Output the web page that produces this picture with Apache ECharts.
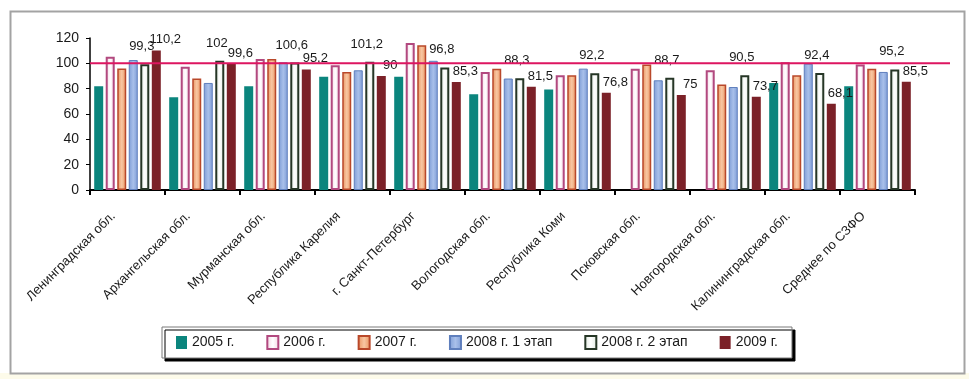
<!DOCTYPE html>
<html>
<head>
<meta charset="utf-8">
<script src="https://cdn.jsdelivr.net/npm/echarts@6/dist/echarts.min.js"></script>
<style>
  html, body { margin: 0; padding: 0; background: #ffffff; }
  #chart { width: 969px; height: 379px; }
</style>
</head>
<body>
<div id="chart"></div>
<script>
// регионы
var categories = ['Ленинградская обл.', 'Архангельская обл.', 'Мурманская обл.', 'Республика Карелия',
  'г. Санкт-Петербург', 'Вологодская обл.', 'Республика Коми', 'Псковская обл.',
  'Новгородская обл.', 'Калининградская обл.', 'Среднее по СЗФО'];
var seriesNames = ['2005 г.', '2006 г.', '2007 г.', '2008 г. 1 этап', '2008 г. 2 этап', '2009 г.'];
// значения по годам
var v2005 = [82, 73.2, 82, 89.5, 89.5, 75.6, 79.3, null, null, 84.5, 82];
var v2006 = [105.2, 97.3, 103.4, 98.4, 116, 93.2, 90.6, 95.8, 94.5, 100.8, 99];
var v2007 = [96, 88, 103.4, 93.2, 114.2, 95.8, 90.6, 99, 83.2, 90.6, 95.8];
var v2008a = [102.6, 84.5, 100.8, 94.5, 102, 88, 95.8, 86.6, 81.3, 99.7, 93.2];
var v2008b = [99.3, 102, 100.6, 101.2, 96.8, 88.3, 92.2, 88.7, 90.5, 92.4, 95.2];
var v2009 = [110.2, 99.6, 95.2, 90, 85.3, 81.5, 76.8, 75, 73.7, 68.1, 85.5];
// линия 100
var refLevel = 100;
var yTicks = [0, 20, 40, 60, 80, 100, 120];

var FONT = 'Liberation Sans';

function grad(a, b) {
  return {
    type: 'linear', x: 0, y: 0, x2: 1, y2: 0,
    colorStops: [{ offset: 0, color: a }, { offset: 0.5, color: b }, { offset: 1, color: a }]
  };
}
function comma(p) {
  return String(p.value).replace('.', ',');
}

var styles = [
  { color: '#0b857d', borderWidth: 0 },
  { color: grad('#f3d3e1', '#ffffff'), borderColor: '#b2497f', borderWidth: 2 },
  { color: grad('#e8925e', '#f8c7a2'), borderColor: '#b9482a', borderWidth: 1.5 },
  { color: grad('#7e9dd6', '#a9c0ea'), borderColor: '#5f7fbd', borderWidth: 1 },
  { color: grad('#dfe9df', '#ffffff'), borderColor: '#263626', borderWidth: 2 },
  { color: '#7b2128', borderWidth: 0 }
];
var values = [v2005, v2006, v2007, v2008a, v2008b, v2009];

var series = values.map(function (arr, i) {
  var s = {
    name: seriesNames[i],
    type: 'bar',
    data: arr,
    barWidth: 9,
    barGap: '28%',
    itemStyle: styles[i],
    xAxisIndex: 0,
    yAxisIndex: 0
  };
  if (i === 4) {
    s.label = { show: true, position: 'top', distance: 11, offset: [-3, 0], formatter: comma,
      color: '#1a1a1a', fontFamily: FONT, fontSize: 13 };
  }
  if (i === 5) {
    s.label = { show: true, position: 'top', distance: 4, offset: [9, 0], formatter: comma,
      color: '#1a1a1a', fontFamily: FONT, fontSize: 13 };
  }
  return s;
});

// красная линия 100, шире области категорий
series.push({
  type: 'line',
  xAxisIndex: 1,
  yAxisIndex: 1,
  data: [[0, refLevel], [1, refLevel]],
  symbol: 'none',
  z: 10,
  silent: true,
  lineStyle: { color: '#dd1560', width: 2 }
});

var chart = echarts.init(document.getElementById('chart'));
chart.setOption({
  animation: false,
  backgroundColor: '#ffffff',
  textStyle: { fontFamily: FONT },
  graphic: [
    { type: 'rect', left: 0, top: 373, shape: { width: 969, height: 6 }, style: { fill: '#fdfbea' }, silent: true },
    { type: 'rect', left: 8, top: 9, shape: { width: 954, height: 362 },
      style: { fill: 'none', stroke: '#a3a3a3', lineWidth: 2 }, silent: true }
  ],
  legend: {
    data: seriesNames,
    left: 162,
    top: 327,
    padding: [8, 14, 8, 14],
    icon: 'rect',
    itemWidth: 11,
    itemHeight: 13,
    itemGap: 32,
    selectedMode: false,
    backgroundColor: '#ffffff',
    borderColor: '#7a7a7a',
    borderWidth: 1,
    shadowColor: '#000000',
    shadowBlur: 0,
    shadowOffsetX: 3,
    shadowOffsetY: 3,
    textStyle: { fontFamily: FONT, fontSize: 14, color: '#1a1a1a' }
  },
  grid: [
    { left: 90, right: 54, top: 38, bottom: 189 },
    { left: 90, right: 19, top: 38, bottom: 189 }
  ],
  xAxis: [
    {
      type: 'category',
      gridIndex: 0,
      data: categories,
      axisLine: { lineStyle: { color: '#000000', width: 2 } },
      axisTick: { show: true, length: 5, lineStyle: { color: '#000000', width: 2 } },
      axisLabel: { rotate: 45, interval: 0, margin: 10, padding: [0, 20, 0, 0],
        fontFamily: FONT, fontSize: 13, color: '#1a1a1a' }
    },
    { type: 'value', gridIndex: 1, min: 0, max: 1, show: false }
  ],
  yAxis: [
    {
      type: 'value',
      gridIndex: 0,
      min: yTicks[0],
      max: yTicks[yTicks.length - 1],
      interval: 20,
      splitLine: { show: false },
      axisLine: { show: true, lineStyle: { color: '#000000', width: 1.5 } },
      axisTick: { show: true, length: 4, lineStyle: { color: '#000000' } },
      axisLabel: { margin: 11, fontFamily: FONT, fontSize: 14, color: '#1a1a1a' }
    },
    { type: 'value', gridIndex: 1, min: 0, max: 120, show: false }
  ],
  series: series
});
</script>
</body>
</html>
